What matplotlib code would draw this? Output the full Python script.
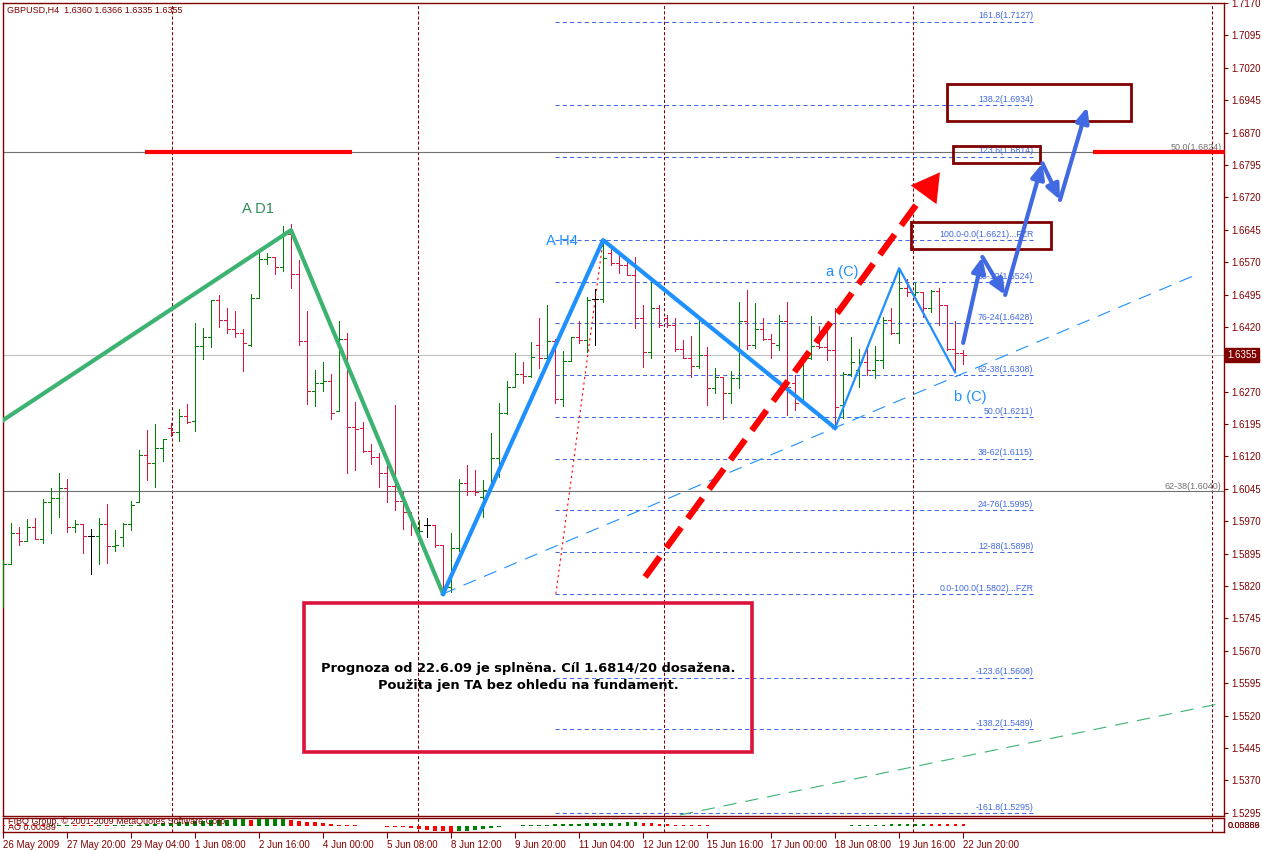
import numpy as np
import matplotlib
matplotlib.use("Agg")
import matplotlib.pyplot as plt
from matplotlib.collections import LineCollection
from matplotlib.patches import Rectangle

plt.rcParams['font.family'] = ['Liberation Sans', 'DejaVu Sans']

# ============================
# 1. Données GBPUSD H4
# ============================
opens = [1.5795, 1.5870, 1.5942, 1.5925, 1.5956, 1.5928, 1.6014, 1.6023, 1.6048, 1.5957,
         1.5963, 1.5936, 1.5936, 1.5963, 1.5913, 1.5933, 1.5964, 1.6015, 1.6123, 1.6104,
         1.6139, 1.6185, 1.6177, 1.6214, 1.6202, 1.6376, 1.6396, 1.6482, 1.6436, 1.6415,
         1.6405, 1.6378, 1.6487, 1.6578, 1.6581, 1.6559, 1.6636, 1.6542, 1.6388, 1.6272,
         1.6291, 1.6295, 1.6226, 1.6393, 1.6189, 1.6185, 1.6133, 1.6119, 1.6081, 1.6051,
         1.6018, 1.5992, 1.5943, 1.5961, 1.5961, 1.5915, 1.5818, 1.5909, 1.6058, 1.6041,
         1.6027, 1.6042, 1.6116, 1.6220, 1.6281, 1.6312, 1.6307, 1.6378, 1.6347, 1.6387,
         1.6254, 1.6341, 1.6396, 1.6389, 1.6484, 1.6484, 1.6590, 1.6569, 1.6563, 1.6541,
         1.6440, 1.6362, 1.6463, 1.6440, 1.6424, 1.6370, 1.6347, 1.6330, 1.6356, 1.6278,
         1.6303, 1.6268, 1.6302, 1.6433, 1.6378, 1.6416, 1.6392, 1.6378, 1.6433, 1.6289,
         1.6254, 1.6347, 1.6376, 1.6374, 1.6366, 1.6240, 1.6312, 1.6320, 1.6339, 1.6320,
         1.6343, 1.6436, 1.6406, 1.6509, 1.6497, 1.6500, 1.6463, 1.6504, 1.6470, 1.6368,
         1.6360]
highs = [1.5880, 1.5965, 1.5956, 1.5975, 1.5978, 1.6021, 1.6046, 1.6082, 1.6068, 1.5974,
         1.5963, 1.5953, 1.5977, 1.6010, 1.5950, 1.5965, 1.6018, 1.6135, 1.6181, 1.6195,
         1.6160, 1.6197, 1.6229, 1.6241, 1.6430, 1.6418, 1.6482, 1.6495, 1.6464, 1.6457,
         1.6415, 1.6497, 1.6592, 1.6592, 1.6582, 1.6653, 1.6658, 1.6576, 1.6457, 1.6320,
         1.6338, 1.6311, 1.6433, 1.6406, 1.6247, 1.6200, 1.6148, 1.6129, 1.6108, 1.6239,
         1.6038, 1.5992, 1.5973, 1.5977, 1.5961, 1.5915, 1.5942, 1.6069, 1.6100, 1.6089,
         1.6065, 1.6175, 1.6245, 1.6295, 1.6359, 1.6338, 1.6384, 1.6440, 1.6470, 1.6391,
         1.6364, 1.6397, 1.6433, 1.6490, 1.6508, 1.6621, 1.6606, 1.6596, 1.6579, 1.6582,
         1.6470, 1.6523, 1.6470, 1.6447, 1.6440, 1.6389, 1.6399, 1.6436, 1.6374, 1.6324,
         1.6305, 1.6318, 1.6477, 1.6505, 1.6476, 1.6440, 1.6403, 1.6447, 1.6478, 1.6308,
         1.6355, 1.6445, 1.6422, 1.6416, 1.6463, 1.6316, 1.6396, 1.6370, 1.6378, 1.6376,
         1.6444, 1.6463, 1.6556, 1.6532, 1.6521, 1.6501, 1.6505, 1.6511, 1.6470, 1.6433,
         1.6366]
lows = [1.5772, 1.5870, 1.5915, 1.5925, 1.5928, 1.5920, 1.5943, 1.5980, 1.5946, 1.5946,
        1.5896, 1.5849, 1.5872, 1.5874, 1.5902, 1.5913, 1.5950, 1.6015, 1.6065, 1.6050,
        1.6110, 1.6167, 1.6156, 1.6197, 1.6180, 1.6345, 1.6374, 1.6420, 1.6405, 1.6396,
        1.6318, 1.6376, 1.6487, 1.6565, 1.6542, 1.6550, 1.6511, 1.6379, 1.6241, 1.6237,
        1.6272, 1.6206, 1.6226, 1.6082, 1.6089, 1.6131, 1.6102, 1.6050, 1.6015, 1.5996,
        1.5953, 1.5938, 1.5938, 1.5934, 1.5911, 1.5802, 1.5807, 1.5902, 1.6031, 1.6031,
        1.5981, 1.6040, 1.6073, 1.6218, 1.6280, 1.6289, 1.6305, 1.6324, 1.6335, 1.6244,
        1.6237, 1.6340, 1.6382, 1.6362, 1.6378, 1.6477, 1.6563, 1.6544, 1.6540, 1.6418,
        1.6328, 1.6349, 1.6420, 1.6420, 1.6365, 1.6347, 1.6305, 1.6324, 1.6239, 1.6268,
        1.6206, 1.6244, 1.6279, 1.6370, 1.6372, 1.6389, 1.6349, 1.6366, 1.6216, 1.6227,
        1.6243, 1.6345, 1.6372, 1.6343, 1.6186, 1.6208, 1.6307, 1.6281, 1.6308, 1.6301,
        1.6324, 1.6403, 1.6383, 1.6491, 1.6494, 1.6443, 1.6455, 1.6424, 1.6366, 1.6315,
        1.6335]
closes = [1.5870, 1.5942, 1.5925, 1.5957, 1.5928, 1.6014, 1.6023, 1.6048, 1.5957, 1.5963,
          1.5936, 1.5936, 1.5963, 1.5913, 1.5915, 1.5964, 1.6008, 1.6123, 1.6106, 1.6139,
          1.6160, 1.6177, 1.6214, 1.6199, 1.6376, 1.6396, 1.6482, 1.6436, 1.6415, 1.6406,
          1.6382, 1.6487, 1.6578, 1.6582, 1.6559, 1.6636, 1.6542, 1.6388, 1.6272, 1.6291,
          1.6295, 1.6221, 1.6393, 1.6189, 1.6183, 1.6133, 1.6119, 1.6081, 1.6051, 1.6018,
          1.5992, 1.5971, 1.5948, 1.5961, 1.5915, 1.5811, 1.5909, 1.6058, 1.6041, 1.6038,
          1.6042, 1.6116, 1.6220, 1.6281, 1.6312, 1.6307, 1.6351, 1.6347, 1.6387, 1.6254,
          1.6341, 1.6396, 1.6389, 1.6482, 1.6484, 1.6579, 1.6569, 1.6563, 1.6541, 1.6440,
          1.6362, 1.6463, 1.6424, 1.6424, 1.6370, 1.6347, 1.6330, 1.6356, 1.6278, 1.6303,
          1.6268, 1.6302, 1.6433, 1.6378, 1.6416, 1.6392, 1.6382, 1.6433, 1.6280, 1.6243,
          1.6347, 1.6376, 1.6374, 1.6366, 1.6235, 1.6312, 1.6339, 1.6339, 1.6320, 1.6343,
          1.6436, 1.6406, 1.6509, 1.6500, 1.6500, 1.6463, 1.6504, 1.6470, 1.6368, 1.6360,
          1.6355]

# Awesome Oscillator (en millièmes)
ao_milli = [2.5, 2.2, 2.0, 1.8, 1.6, 1.5, 1.7, 1.9, 2.0, 1.8, 1.6, 1.4, 1.5, 1.3, 1.5, 1.8,
            2.5, 3.5, 4.5, 5.5, 6.5, 7.5,
            9.0, 10.5, 12.0, 13.5, 15.0, 16.0, 16.5, 17.0, 17.5, 16.8, 17.5, 18.0, 18.5, 19.0,
            16.5, 14.0, 11.5, 9.0, 6.5,
            4.5, 3.0, 2.0, 1.2, 0.5, -0.3, -1.0, -2.0, -3.0, -4.0, -5.5,
            -8.0, -10.5, -13.0, -15.0, -16.0,
            -14.5, -12.5, -10.0, -7.5, -5.0, -3.0,
            -1.5, 0.3, 1.0, 1.8, 2.5, 3.2, 4.0, 4.8, 5.5, 6.0, 6.5, 7.0, 7.5, 8.0, 8.5, 9.2, 10.0,
            8.5, 7.0, 5.5, 4.5, 3.5, 2.8, 2.0, 1.5, 1.0, 0.5, 0.0, -0.5, -1.0, -1.5,
            -1.0, -0.5, -0.8, -0.3, -0.6, -0.4, -0.2, 0.3, 0.6, 0.2, 0.5, 0.9, 1.3, 1.8, 2.3,
            2.9, 3.5, 4.2, 4.9, 5.5, 5.8, 6.0, 5.8, 5.4, 5.0, 4.5, 3.89]

date_ticks = [0, 8, 16, 24, 32, 40, 48, 56, 64, 72, 80, 88, 96, 104, 112, 120]
date_labels = ["26 May 2009", "27 May 20:00", "29 May 04:00", "1 Jun 08:00", "2 Jun 16:00",
               "4 Jun 00:00", "5 Jun 08:00", "8 Jun 12:00", "9 Jun 20:00", "11 Jun 04:00",
               "12 Jun 12:00", "15 Jun 16:00", "17 Jun 00:00", "18 Jun 08:00", "19 Jun 16:00",
               "22 Jun 20:00"]
price_ticks = [1.5295, 1.5370, 1.5445, 1.5520, 1.5595, 1.5670, 1.5745, 1.5820, 1.5895,
               1.5970, 1.6045, 1.6120, 1.6195, 1.6270, 1.6345, 1.6420, 1.6495, 1.6570,
               1.6645, 1.6720, 1.6795, 1.6870, 1.6945, 1.7020, 1.7095, 1.7170]

fib_levels = [1.7127, 1.6934, 1.6814, 1.6621, 1.6524, 1.6428, 1.6308, 1.6211, 1.6115,
              1.5995, 1.5898, 1.5802, 1.5608, 1.5489, 1.5295]
fib_labels = ["161.8(1.7127)", "138.2(1.6934)", "123.6(1.6814)", "100.0-0.0(1.6621)...FZR",
              "88-12(1.6524)", "76-24(1.6428)", "62-38(1.6308)", "50.0(1.6211)",
              "38-62(1.6115)", "24-76(1.5995)", "12-88(1.5898)", "0.0-100.0(1.5802)...FZR",
              "-123.6(1.5608)", "-138.2(1.5489)", "-161.8(1.5295)"]
fib_x = [69, 128.75]

# vagues
d1_x, d1_y = [0, 36, 55], [1.6204, 1.6644, 1.5802]
h4_x, h4_y = [55, 75, 104], [1.5802, 1.6621, 1.6186]
c_x, c_y = [104, 112, 119], [1.6186, 1.6556, 1.6315]
trend_blue_x, trend_blue_y = [55, 149], [1.5802, 1.6540]
trend_green_x, trend_green_y = [84.6, 152.4], [1.5290, 1.5549]
fibline_x, fibline_y = [69.1, 75], [1.5802, 1.6621]
forecast_x, forecast_y = [80.25, 117.1], [1.5841, 1.6778]
path_x = [120, 122.4, 125.25, 129.9, 132.1, 135.5]
path_y = [1.6383, 1.6582, 1.6494, 1.6799, 1.6714, 1.6929]

# cadres (x0, x1, y0, y1)
target_boxes = [(118, 141, 1.6896, 1.6982), (118.75, 129.6, 1.6799, 1.6838),
                (113.5, 131, 1.6600, 1.6663)]
note_box = (37.6, 93.6, 1.5436, 1.5781)
red_segments = [(17.75, 43.6), (136.25, 152.75)]
level_50, level_62 = 1.6824, 1.6040
last_price = 1.6355
vgrid = [21.1, 51.9, 82.6, 113.75, 151.1]

DARK = "#800000"
W, H = 1262, 850

# ============================
# 2. Figure
# ============================
fig = plt.figure(figsize=(W / 100, H / 100), dpi=100)
ax = fig.add_axes([3 / W, 34 / H, 1221 / W, 813 / H])
ax2 = fig.add_axes([3 / W, 18 / H, 1221 / W, 14 / H])

xmax = 152.6
ax.set_xlim(0, xmax)
ax.set_ylim(1.52876, 1.71696)

for a in (ax, ax2):
    for s in a.spines.values():
        s.set_color(DARK)
        s.set_linewidth(1.0)
    for gx in vgrid:
        a.axvline(gx, color=DARK, lw=0.75, ls=(0, (3, 2)), zorder=1)

# barres OHLC
o, hh, ll, c = map(np.array, (opens, highs, lows, closes))
idx = np.arange(len(o))
cols = np.where(c > o, "#008000", np.where(c < o, "#DC143C", "#000000"))
tk = 0.4
segs = []
seg_cols = []
for i in idx:
    segs += [[(i, ll[i]), (i, hh[i])], [(i - tk, o[i]), (i, o[i])], [(i, c[i]), (i + tk, c[i])]]
    seg_cols += [cols[i]] * 3
ax.add_collection(LineCollection(segs, colors=seg_cols, linewidths=0.72, antialiaseds=False,
                                 zorder=3))

# lignes horizontales
ax.axhline(level_50, color="#707070", lw=0.8, zorder=2)
ax.axhline(level_62, color="#707070", lw=0.8, zorder=2)
ax.axhline(last_price, color="#C0C0C0", lw=0.8, zorder=2)
ax.text(xmax - 0.3, level_50, "50.0(1.6824)", color="#707070", fontsize=6.5,
        ha="right", va="bottom")
ax.text(xmax - 0.3, level_62, "62-38(1.6040)", color="#707070", fontsize=6.5,
        ha="right", va="bottom")
for x0, x1 in red_segments:
    ax.plot([x0, x1], [level_50, level_50], color="red", lw=3, solid_capstyle="butt",
            zorder=4, clip_on=False)

# niveaux de Fibonacci
for lv, lab in zip(fib_levels, fib_labels):
    ax.plot(fib_x, [lv, lv], color="#4169E1", lw=0.75, ls=(0, (4, 3)), zorder=2)
    ax.text(fib_x[1], lv + 0.0003, lab, color="#4169E1", fontsize=6.3,
            ha="right", va="bottom", zorder=2)

# lignes de tendance
ax.plot(trend_blue_x, trend_blue_y, color="#1E90FF", lw=0.8, ls=(0, (12, 8)), zorder=4)
ax.plot(trend_green_x, trend_green_y, color="#3CB371", lw=0.8, ls=(0, (12, 8)), zorder=4)
ax.plot(fibline_x, fibline_y, color="red", lw=0.8, ls=(0, (2, 3)), zorder=4)

# vagues
ax.plot(d1_x, d1_y, color="#3CB371", lw=3, zorder=5)
ax.plot(h4_x, h4_y, color="#1E90FF", lw=3, zorder=5)
ax.plot(c_x, c_y, color="#1E90FF", lw=1.6, zorder=5)
ax.text(31.9, 1.6694, "A D1", color="#2E8B57", fontsize=10.5, ha="center", va="center")
ax.text(69.9, 1.6619, "A H4", color="#1E90FF", fontsize=10.5, ha="center", va="center")
ax.text(104.9, 1.6547, "a (C)", color="#1E90FF", fontsize=10.5, ha="center", va="center")
ax.text(120.9, 1.6258, "b (C)", color="#1E90FF", fontsize=10.5, ha="center", va="center")

# flèche rouge de prévision
fx0, fx1 = forecast_x
fy0, fy1 = forecast_y
t = 0.93
ax.plot([fx0, fx0 + t * (fx1 - fx0)], [fy0, fy0 + t * (fy1 - fy0)], color="red", lw=4.5,
        ls=(0, (4, 1.8)), solid_capstyle="butt", zorder=6)
ax.annotate("", xy=(fx1, fy1), xytext=(fx0, fy0),
            arrowprops=dict(arrowstyle="-|>,head_length=2.0,head_width=1.15",
                            color="red", lw=0, shrinkA=0, shrinkB=0), zorder=6)

# chemin bleu prévu
for k in range(len(path_x) - 1):
    ax.annotate("", xy=(path_x[k + 1], path_y[k + 1]), xytext=(path_x[k], path_y[k]),
                arrowprops=dict(arrowstyle="-|>,head_length=0.9,head_width=0.4",
                                color="#4169E1", lw=3, shrinkA=0, shrinkB=0), zorder=7)

# cadres
for x0, x1, y0, y1 in target_boxes:
    ax.add_patch(Rectangle((x0, y0), x1 - x0, y1 - y0, fill=False, ec=DARK, lw=2, zorder=6))
nx0, nx1, ny0, ny1 = note_box
ax.add_patch(Rectangle((nx0, ny0), nx1 - nx0, ny1 - ny0, fill=False, ec="#DC143C", lw=2.6,
                       zorder=6))
ax.text((nx0 + nx1) / 2, (ny0 + ny1) / 2,
        "Prognoza od 22.6.09 je splněna. Cíl 1.6814/20 dosažena.\n"
        "Použita jen TA bez ohledu na fundament.",
        ha="center", va="center", fontsize=9.4, fontweight="bold", family="DejaVu Sans",
        linespacing=1.4, zorder=7)

# axe des prix à droite
ax.yaxis.tick_right()
ax.set_yticks(price_ticks)
ax.set_yticklabels([f"{p:.4f}" for p in price_ticks])
ax.tick_params(axis="y", colors=DARK, labelcolor=DARK, length=3, width=0.8, pad=2,
               labelsize=7)
ax.tick_params(axis="x", bottom=False, labelbottom=False)
ax.annotate("1.6355", xy=(1, last_price), xycoords=("axes fraction", "data"),
            xytext=(3, 0), textcoords="offset pixels", ha="left", va="center",
            fontsize=7, color="white",
            bbox=dict(boxstyle="square,pad=0.2", fc=DARK, ec=DARK), zorder=10,
            annotation_clip=False)

fig.text(7 / W, 1 - 10 / H, "GBPUSD,H4  1.6360 1.6366 1.6335 1.6355", color=DARK,
         fontsize=6.5, va="center", ha="left")

# ============================
# 3. Sous-fenêtre AO
# ============================
ao = np.array(ao_milli) * 1e-3
ao_cols = ["#008000" if (k > 0 and ao[k] >= ao[k - 1]) else "red" for k in range(len(ao))]
ax2.bar(idx, ao, width=0.4, color=ao_cols, zorder=3)
ax2.set_xlim(0, xmax)
ax2.set_ylim(-0.0165, 0.021)
ax2.set_yticks([])
ax2.set_xticks(date_ticks)
ax2.set_xticklabels(date_labels, ha="left")
ax2.tick_params(axis="x", colors=DARK, labelcolor=DARK, length=4, width=0.8, pad=2,
                labelsize=7)
ax2.text(0.004, 0.72, "FIBO Group, © 2001-2009 MetaQuotes Software Corp.", color=DARK,
         fontsize=6.5, transform=ax2.transAxes, va="center", ha="left", zorder=5)
ax2.text(0.004, 0.3, "AO 0.00389", color=DARK, fontsize=6.5, transform=ax2.transAxes,
         va="center", ha="left", zorder=5)
for lab in ("0.03866", "0.00389"):
    ax2.text(1.003, 0.45, lab, color=DARK, fontsize=6.5, transform=ax2.transAxes,
             va="center", ha="left", clip_on=False)

fig.savefig("out.png", dpi=100)
plt.close(fig)
